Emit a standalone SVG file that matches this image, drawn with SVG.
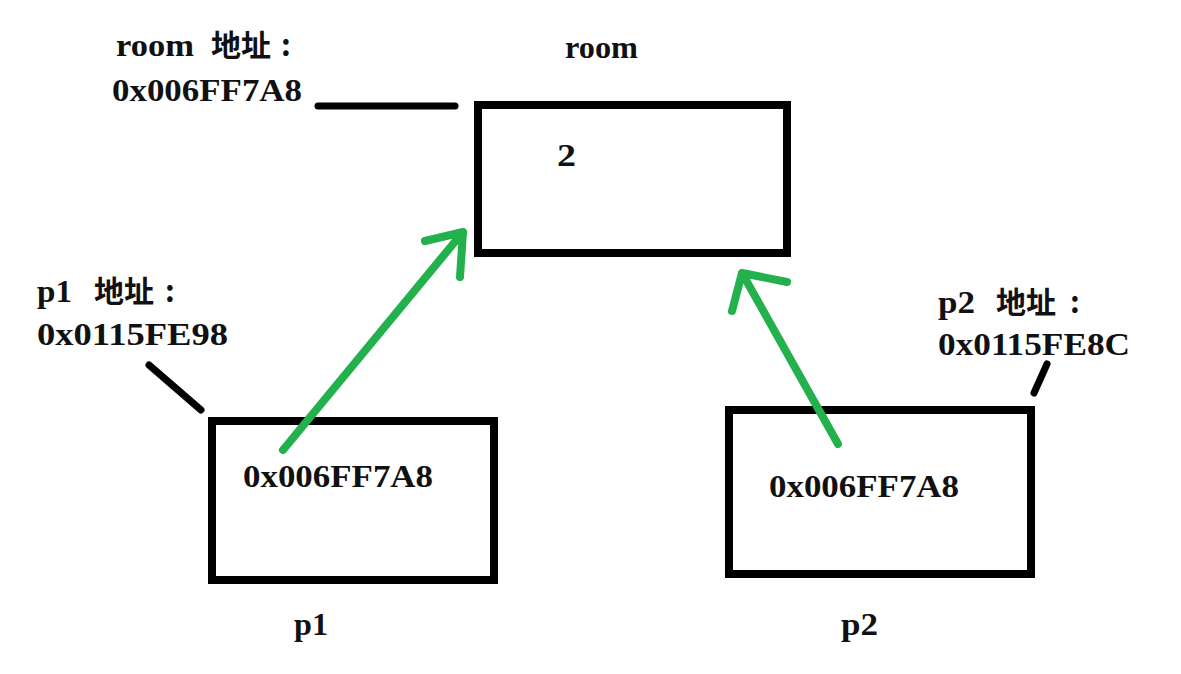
<svg xmlns="http://www.w3.org/2000/svg" width="1181" height="674" viewBox="0 0 1181 674">
<style>
.box{fill:none;stroke:#000;stroke-width:8}
.t{font-family:"Liberation Serif","Noto Sans CJK SC",serif;font-weight:bold;font-size:32px;fill:#111}
.c{font-family:"Noto Sans CJK SC",sans-serif;font-weight:bold;font-size:30px;fill:#111}
.ln{stroke:#000;stroke-width:7;stroke-linecap:round;fill:none}
.g{stroke:#22b14c;stroke-width:8;stroke-linecap:round;stroke-linejoin:round;fill:none}
</style>
<rect width="1181" height="674" fill="#fff"/>
<g id="room">
<rect class="box" x="478" y="105" width="309" height="148"/>
<text class="t" x="565" y="58" textLength="73" lengthAdjust="spacingAndGlyphs">room</text>
<text class="t" x="557" y="166" textLength="19" lengthAdjust="spacingAndGlyphs">2</text>
</g>
<g id="room-addr">
<text class="t" x="116" y="56" textLength="78" lengthAdjust="spacingAndGlyphs">room</text>
<text class="c" x="211" y="56">地址</text>
<text class="c" x="281" y="56">:</text>
<text class="t" x="112" y="101" textLength="190" lengthAdjust="spacingAndGlyphs">0x006FF7A8</text>
</g>
<g id="p1">
<rect class="box" x="212" y="421" width="282" height="159"/>
<text class="t" x="243" y="487" textLength="190" lengthAdjust="spacingAndGlyphs">0x006FF7A8</text>
<text class="t" x="294" y="635" textLength="34" lengthAdjust="spacingAndGlyphs">p1</text>
</g>
<g id="p1-addr">
<text class="t" x="37" y="302" textLength="35" lengthAdjust="spacingAndGlyphs">p1</text>
<text class="c" x="94" y="302">地址</text>
<text class="c" x="165" y="302">:</text>
<text class="t" x="37" y="345" textLength="191" lengthAdjust="spacingAndGlyphs">0x0115FE98</text>
</g>
<g id="p2">
<rect class="box" x="729" y="410" width="302" height="164"/>
<text class="t" x="769" y="497" textLength="190" lengthAdjust="spacingAndGlyphs">0x006FF7A8</text>
<text class="t" x="841" y="635" textLength="37" lengthAdjust="spacingAndGlyphs">p2</text>
</g>
<g id="p2-addr">
<text class="t" x="938" y="313" textLength="37" lengthAdjust="spacingAndGlyphs">p2</text>
<text class="c" x="996" y="313">地址</text>
<text class="c" x="1070" y="313">:</text>
<text class="t" x="938" y="355" textLength="192" lengthAdjust="spacingAndGlyphs">0x0115FE8C</text>
</g>
<g id="connectors">
<line class="ln" x1="318" y1="106" x2="455" y2="106"/>
<line class="ln" x1="149" y1="365" x2="201" y2="410"/>
<line class="ln" x1="1047" y1="364" x2="1034" y2="393"/>
<path class="g" d="M283 450 L463 232 M425 241 L463 232 L460 277"/>
<path class="g" d="M838 444 L742 273 M787 282 L742 273 L732 311"/>
</g>
</svg>
